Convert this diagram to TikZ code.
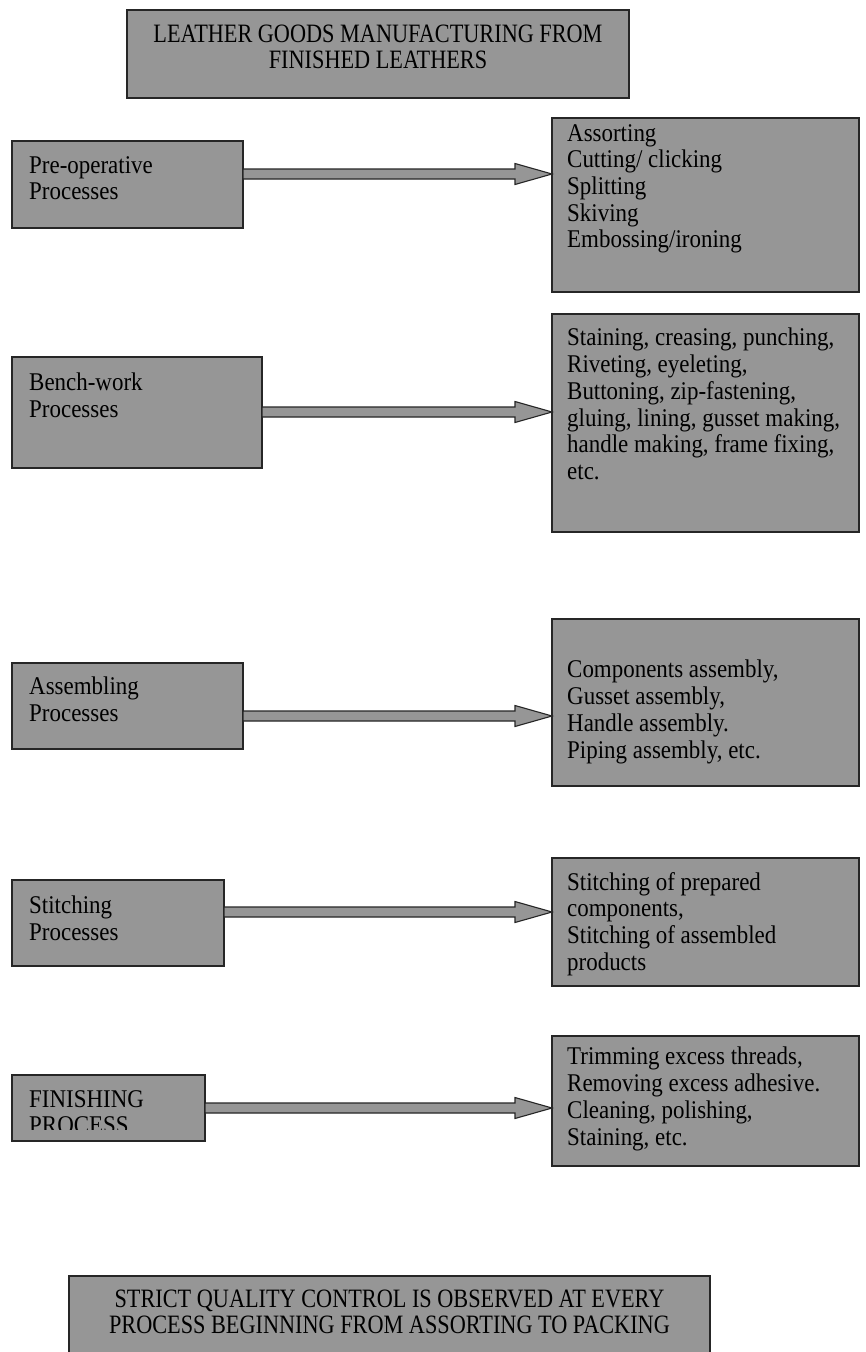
\documentclass[tikz,border=0pt]{standalone}
\usepackage{fontspec}
\setmainfont{Liberation Serif}[FakeStretch=0.9]
\newfontfamily\capsfamily{Liberation Serif}[FakeStretch=0.84]
\usepackage{tikz}
\usetikzlibrary{calc}
\definecolor{boxgrey}{HTML}{969696}
\definecolor{edgegrey}{HTML}{262626}
\newcommand{\procfont}{\fontsize{25.5}{26.7}\selectfont}
\newcommand{\capsfont}{\capsfamily\fontsize{26.5}{25.5}\selectfont}
% block arrow: from box, to box, height of the arrow
\newcommand{\procarrow}[3]{%
  \draw[flowarrow] ($(#1.east |- 0,#3)+(0,-5)$) -- ($(#2.west |- 0,#3)+(-37,-5)$)
    -- ++(0,-5.5) -- (#2.west |- 0,#3) -- ++(-37,10.5) -- ++(0,-5.5)
    -- ($(#1.east |- 0,#3)+(0,5)$) -- cycle;}

\begin{document}
\begin{tikzpicture}[
    x=1pt, y=-1pt,
    procbox/.style={
      draw=edgegrey,
      fill=boxgrey,
      line width=1.3pt,
      inner sep=0pt,
      outer sep=0pt,
      anchor=north west
    },
    boxtext/.style={anchor=north west, inner sep=0pt, align=left, font=\procfont},
    headtext/.style={anchor=north, inner sep=0pt, align=center, font=\capsfont},
    flowarrow/.style={draw=edgegrey, fill=boxgrey, line width=1.1pt, line join=miter}
  ]
    \useasboundingbox (0,0) rectangle (866,1352);
    \fill[white] (0,0) rectangle (866,1352);

    % heading
    \node[procbox, minimum width=502, minimum height=88] (title) at (127,10) {};
    \node[headtext] (titleT) at (title.north |- 0,25)
      {LEATHER GOODS MANUFACTURING FROM\\FINISHED LEATHERS};

    % left column
    \node[procbox, minimum width=231, minimum height=87]  (preL)   at (12,141)  {};
    \node[procbox, minimum width=250, minimum height=111] (benchL) at (12,357)  {};
    \node[procbox, minimum width=231, minimum height=86]  (asmL)   at (12,663)  {};
    \node[procbox, minimum width=212, minimum height=86]  (stitL)  at (12,880)  {};
    \node[procbox, minimum width=193, minimum height=66]  (finL)   at (12,1075) {};

    % right column
    \node[procbox, minimum width=307, minimum height=174] (preR)   at (552,118)  {};
    \node[procbox, minimum width=307, minimum height=218] (benchR) at (552,314)  {};
    \node[procbox, minimum width=307, minimum height=167] (asmR)   at (552,619)  {};
    \node[procbox, minimum width=307, minimum height=128] (stitR)  at (552,858)  {};
    \node[procbox, minimum width=307, minimum height=130] (finR)   at (552,1036) {};

    % note at the foot
    \node[procbox, minimum width=641, minimum height=130] (note) at (69,1276) {};
    \node[headtext] (noteT) at (note.north |- 0,1290)
      {STRICT QUALITY CONTROL IS OBSERVED AT EVERY\\PROCESS BEGINNING FROM ASSORTING TO PACKING};

    % texts
    \node[boxtext] (preLT)   at (29,156) {Pre-operative\\Processes};
    \node[boxtext] (benchLT) at (29,373) {Bench-work\\Processes};
    \node[boxtext] (asmLT)   at (29,677) {Assembling\\Processes};
    \node[boxtext] (stitLT)  at (29,896) {Stitching\\Processes};
    \begin{scope}
      \clip (finL.north west) rectangle ($(finL.south east)+(0,-12)$);
      \node[boxtext] (finLT) at (29,1090) {FINISHING\\PROCESS};
    \end{scope}

    \node[boxtext] (preRT) at (567,124)
      {Assorting\\Cutting/ clicking\\Splitting\\Skiving\\Embossing/ironing};
    \node[boxtext] (benchRT) at (567,328)
      {Staining, creasing, punching,\\Riveting, eyeleting,\\Buttoning, zip-fastening,\\gluing, lining, gusset making,\\handle making, frame fixing,\\etc.};
    \node[boxtext] (asmRT) at (567,660)
      {Components assembly,\\Gusset assembly,\\Handle assembly.\\Piping assembly, etc.};
    \node[boxtext] (stitRT) at (567,872)
      {Stitching of prepared\\components,\\Stitching of assembled\\products};
    \node[boxtext] (finRT) at (567,1047)
      {Trimming excess threads,\\Removing excess adhesive.\\Cleaning, polishing,\\Staining,  etc.};

    % arrows
    \procarrow{preL}{preR}{174}
    \procarrow{benchL}{benchR}{412}
    \procarrow{asmL}{asmR}{716}
    \procarrow{stitL}{stitR}{912}
    \procarrow{finL}{finR}{1108}
  \end{tikzpicture}
\end{document}
